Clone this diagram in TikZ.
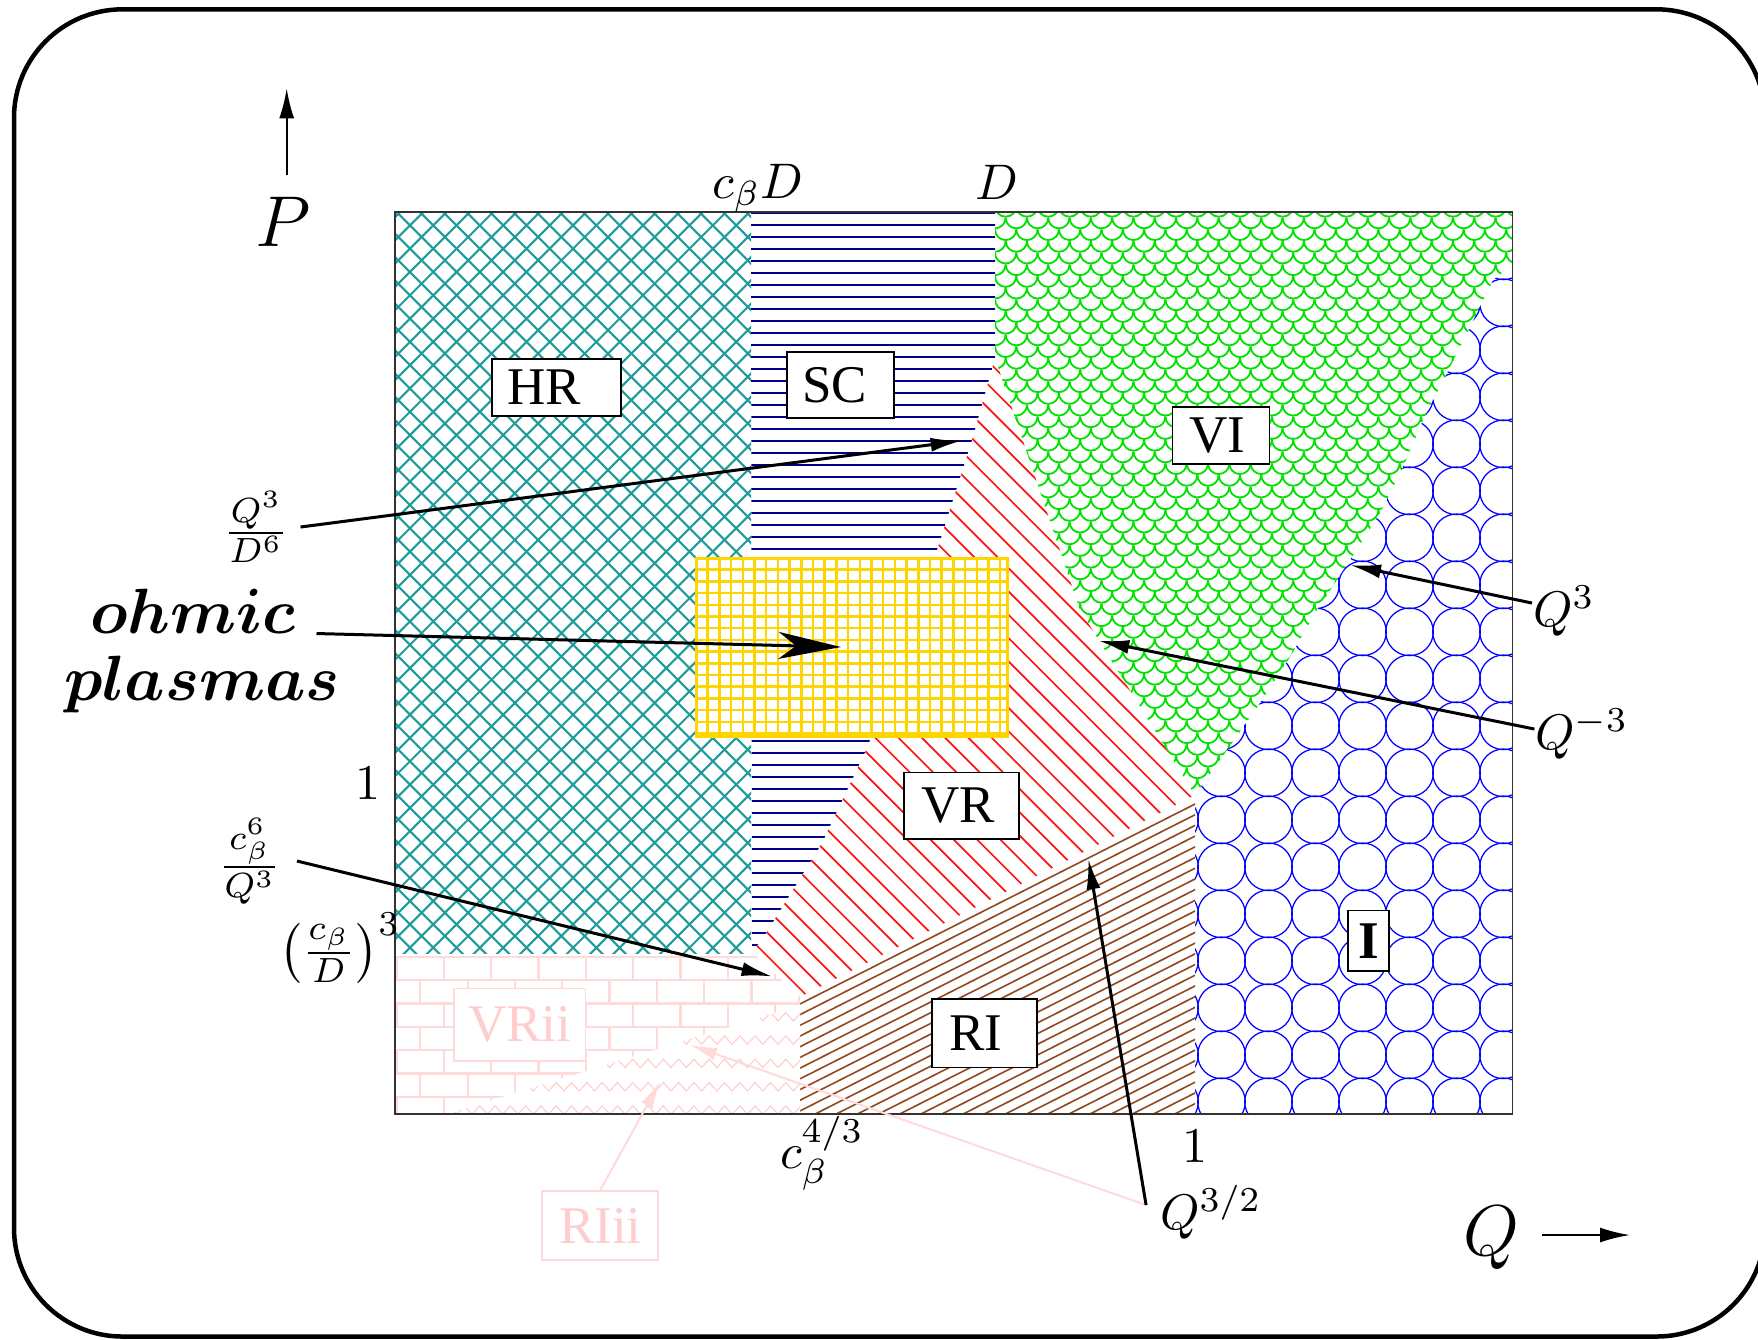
\documentclass[tikz,border=0pt]{standalone}
\usepackage{fontspec}
\newfontfamily\tnr{Liberation Serif}
\font\ohmfont=cmmib10 at 12.8pt
\usetikzlibrary{arrows.meta,decorations.pathmorphing}
\definecolor{tealc}{RGB}{30,155,155}
\definecolor{navyc}{RGB}{0,0,140}
\definecolor{redc}{RGB}{255,20,20}
\definecolor{brownc}{RGB}{145,72,32}
\definecolor{greenc}{RGB}{0,225,0}
\definecolor{bluec}{RGB}{0,0,255}
\definecolor{goldc}{RGB}{255,213,0}
\definecolor{pinkc}{RGB}{255,218,218}
\definecolor{pinkz}{RGB}{255,205,205}
\definecolor{pinkt}{RGB}{255,205,205}
\begin{document}
\begin{tikzpicture}[x=0.2pt,y=-0.2pt,
  lbl/.style={draw=black, fill=white, line width=0.35pt, font=\tnr\fontsize{10.6}{12}\selectfont, inner ysep=0pt, align=left},
  plbl/.style={draw=pinkc, fill=white, text=pinkt, line width=0.35pt, font=\tnr\fontsize{10.6}{12}\selectfont, inner sep=0pt},
  mlab/.style={font=\fontsize{10}{12}\selectfont, inner sep=0pt},
  biglab/.style={font=\fontsize{14.4}{17}\selectfont, inner sep=0pt},
  ohmlbl/.style={font=\ohmfont, inner sep=0pt},
  arr/.style={line width=0.6pt, -{Latex[length=6.2pt,width=2.8pt]}},
  axisarr/.style={line width=0.45pt, -{Latex[length=6pt,width=3pt]}},
  bigarr/.style={line width=0.6pt, -{Stealth[length=12.5pt,width=5.4pt,inset=3.5pt]}},
  pinkarr/.style={draw=pinkc, line width=0.4pt, -{Latex[length=5.4pt,width=2.6pt]}, color=pinkc}
]
\useasboundingbox (0,0) rectangle (1758,1339);
\fill[white] (0,0) rectangle (1758,1339);

% outer frame
\draw[line width=0.9pt, rounded corners=21.7pt] (14,9.3) rectangle (1765,1336.5);

% HR : teal crosshatch
\begin{scope}
\clip (395,212) rectangle (751,953);
\foreach \k in {-33,...,16} \draw[tealc, line width=0.42pt] ({184.6+23.3*\k+200},200) -- ({184.6+23.3*\k+960},960);
\foreach \k in {-1,...,48} \draw[tealc, line width=0.42pt] ({612+23.3*\k-200},200) -- ({612+23.3*\k-960},960);
\end{scope}

% SC : navy horizontal lines
\begin{scope}
\clip (751,212) -- (995,212) -- (995,358) -- (972,440) -- (938,547) -- (903,650) -- (867,748) -- (822,843) -- (763,938) -- (752,952) -- cycle;
\foreach \k in {0,...,62} \draw[navyc, line width=0.55pt] (745,{213+12*\k}) -- (1000,{213+12*\k});
\end{scope}

% VR : red diagonal lines
\begin{scope}
\clip (995,358) -- (972,440) -- (938,547) -- (903,650) -- (867,748) -- (822,843) -- (763,938) -- (752,952) -- (800,997) -- (1195,795) -- (1080,610) -- cycle;
\foreach \k in {0,...,38} \draw[redc, line width=0.34pt] ({-212+23.3*\k+340},340) -- ({-212+23.3*\k+1010},1010);
\end{scope}

% RI : brown rising lines
\begin{scope}
\clip (800,997) -- (1195,795) -- (1195,1114) -- (800,1114) -- cycle;
\foreach \k in {0,...,31} \draw[brownc, line width=0.32pt] (790,{1398+10.7*\k-0.506*790}) -- (1200,{1398+10.7*\k-0.506*1200});
\end{scope}

% VI : green fish scales
\begin{scope}
\clip (995,212) -- (1512,212) -- (1512,265) -- (1493,280) -- (1470,327) -- (1447,373) -- (1423,420) -- (1403,467) -- (1380,513) -- (1350,560) -- (1317,610) -- (1290,657) -- (1260,703) -- (1227,750) -- (1195,795) -- (1080,610) -- (995,358) -- cycle;
\foreach \j in {0,...,52} {
  \pgfmathsetmacro\yy{206+11.7*\j}
  \pgfmathsetmacro\off{mod(\j,2)*10.65}
  \foreach \i in {0,...,25} {
    \draw[greenc, line width=0.36pt] ({973.7+\off+21.3*\i},\yy) arc[start angle=180, end angle=0, radius=10.65];
  }
}
\end{scope}

% I : blue circles
\begin{scope}
\clip (1512,265) -- (1493,280) -- (1470,327) -- (1447,373) -- (1423,420) -- (1403,467) -- (1380,513) -- (1350,560) -- (1317,610) -- (1290,657) -- (1260,703) -- (1227,750) -- (1195,795) -- (1195,1114) -- (1512,1114) -- cycle;
\foreach \i in {0,...,7} \foreach \j in {-3,...,16} \draw[bluec, line width=0.25pt] ({1503.5-47*\i},{396.8+47*\j}) circle[radius=23.8];
\end{scope}

% VRii : pink bricks
\begin{scope}
\clip (395,953) -- (753,953) -- (800,997) -- (800,1114) -- (395,1114) -- cycle;
\foreach \k in {0,...,6} \draw[pinkc, line width=0.45pt] (390,{956.7+23.33*\k}) -- (805,{956.7+23.33*\k});
\foreach \k in {0,...,6} \foreach \m in {0,...,9} \draw[pinkc, line width=0.45pt] ({396.7+47.3*\m+mod(\k,2)*23.65},{956.7+23.33*\k}) -- ++(0,23.33);
\end{scope}

% RIii : pink zigzags
\fill[white] (447,1114) -- (800,1005) -- (800,1114) -- cycle;
\begin{scope}
\clip (447,1114) -- (800,1005) -- (800,1114) -- cycle;
\foreach \k in {0,...,4} \draw[pinkz, line width=0.22pt, decorate, decoration={zigzag, segment length=3.06pt, amplitude=0.84pt}] (430,{1016.7+23.33*\k}) -- (810,{1016.7+23.33*\k});
\end{scope}

% plot box
\draw[line width=0.28pt, black!80] (395,212) rectangle (1512.5,1114);

% ohmic box: yellow grid
\fill[white] (696,558) rectangle (1007,736);
\begin{scope}
\clip (696,558) rectangle (1007,736);
\foreach \k in {0,...,27} \draw[goldc, line width=0.5pt] ({696+11.7*\k},558) -- ++(0,178);
\foreach \k in {0,...,16} \draw[goldc, line width=0.5pt] (696,{558+11.7*\k}) -- ++(311,0);
\end{scope}
\draw[goldc, line width=0.6pt] (696,558) rectangle (1007,736);

% axis labels and arrows
\node[biglab, anchor=base] (Plbl) at (283,246.7) {$P$};
\coordinate (Pbot) at (286.7,175);
\coordinate (Ptop) at (286.7,88.3);
\draw[axisarr] (Pbot) -- (Ptop);
\node[biglab, anchor=base] (Qlbl) at (1491,1255) {$Q$};
\coordinate (Qleft) at (1542,1235);
\coordinate (Qright) at (1630,1235);
\draw[axisarr] (Qleft) -- (Qright);

% math labels
\node[mlab, anchor=base] (cbD) at (758,198) {$c_\beta D$};
\node[mlab, anchor=base] (Dtop) at (997,199) {$D$};
\node[mlab] (one) at (368,783) {$1$};
\node[mlab] (cbD3) at (340,948) {$\left(\frac{c_\beta}{D}\right)^3$};
\node[mlab, anchor=east, inner xsep=3pt] (cQ) at (297,861) {$\frac{c_\beta^6}{Q^3}$};
\node[mlab, anchor=east, inner xsep=2.2pt] (QD) at (300.5,527) {$\frac{Q^3}{D^6}$};
\node[mlab] (c43) at (822,1153) {$c_\beta^{4/3}$};
\node[mlab] (oneb) at (1195,1146) {$1$};
\node[mlab] (Q3) at (1564,611) {$Q^3$};
\node[mlab] (Qm3) at (1582,734) {$Q^{-3}$};
\node[mlab] (Q32) at (1211,1212) {$Q^{3/2}$};
\node[ohmlbl, anchor=base] (ohmic) at (193,633.5) {ohmic};
\node[ohmlbl, anchor=base] (plasmas) at (202,700.7) {plasmas};

% arrows
\coordinate (tQD) at (961.7,440.7);
\draw[arr] (QD.east) -- (tQD);
\coordinate (tcQ) at (772.5,976.5);
\draw[arr] (cQ.east) -- (tcQ);
\coordinate (tohm) at (841,647);
\draw[bigarr] ([xshift=4pt]ohmic.base east) -- (tohm);
\coordinate (tQ3) at (1350,565);
\draw[arr] ([yshift=1.6pt]Q3.west) -- (tQ3);
\coordinate (tQm3) at (1098.3,640.7);
\draw[arr] ([yshift=1pt]Qm3.west) -- (tQm3);
\coordinate (tpink) at (690,1045);
\draw[pinkarr] ([xshift=-2.6pt,yshift=1.4pt]Q32.west) -- (tpink);
\coordinate (tQ32) at (1088.3,858.3);
\draw[arr] ([xshift=-2.6pt,yshift=1.4pt]Q32.west) -- (tQ32);

% region labels
\node[lbl, text width=19.8pt, inner xsep=3pt, minimum height=11.4pt] (HR) at (556.6,387.5) {HR};
\node[lbl, text width=15.4pt, inner xsep=3pt, minimum height=13.2pt] (SC) at (840.5,385) {SC};
\node[lbl, text width=12.6pt, inner xsep=3.4pt, minimum height=11.4pt] (VI) at (1221,435.7) {VI};
\node[lbl, text width=16.2pt, inner xsep=3.4pt, minimum height=13.3pt] (VR) at (961.5,805.8) {VR};
\node[lbl, text width=14.2pt, inner xsep=3.4pt, minimum height=13.7pt] (RI) at (984.8,1033.3) {RI};
\node[lbl, minimum width=8.2pt, inner xsep=0pt, minimum height=12.1pt, font=\tnr\bfseries\fontsize{10.6}{12}\selectfont] (I) at (1368.4,940.7) {I};
\node[plbl, minimum width=26.3pt, minimum height=14.5pt] (VRii) at (519.8,1024.7) {VRii};
\node[plbl, minimum width=23.2pt, minimum height=13.8pt] (RIii) at (600.3,1225.5) {RIii};
\coordinate (tRIii) at (660,1081.7);
\draw[pinkarr] (RIii.north) -- (tRIii);
\end{tikzpicture}
\end{document}
